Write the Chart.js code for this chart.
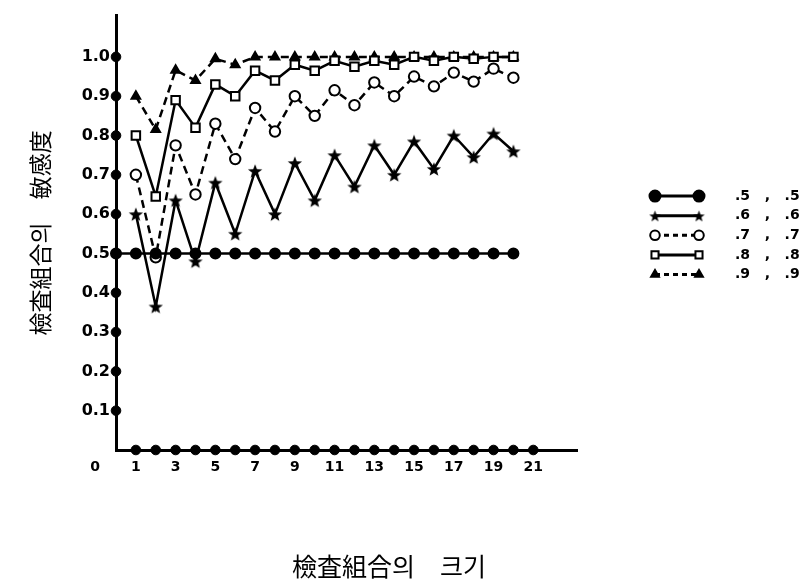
<!DOCTYPE html>
<html>
<head>
<meta charset="utf-8">
<script src="https://cdn.jsdelivr.net/npm/chart.js@4.4.0/dist/chart.umd.min.js"></script>
<style>
  html, body { margin: 0; padding: 0; background: #fff; }
  #wrap { width: 802px; height: 582px; }
</style>
</head>
<body>
<div id="wrap"><canvas id="c"></canvas></div>
<script>
// test-combination size (x) and sensitivity per (sens, spec) pair
const sizes = [1, 2, 3, 4, 5, 6, 7, 8, 9, 10, 11, 12, 13, 14, 15, 16, 17, 18, 19, 20];
const sizes55 = [0, 1, 2, 3, 4, 5, 6, 7, 8, 9, 10, 11, 12, 13, 14, 15, 16, 17, 18, 19, 20];
const s55 = [0.5, 0.5, 0.5, 0.5, 0.5, 0.5, 0.5, 0.5, 0.5, 0.5, 0.5, 0.5, 0.5, 0.5, 0.5, 0.5, 0.5, 0.5, 0.5, 0.5, 0.5];
const s66 = [0.60, 0.365, 0.635, 0.48, 0.68, 0.55, 0.71, 0.60, 0.73, 0.635, 0.75, 0.67, 0.775, 0.70, 0.785, 0.715, 0.80, 0.745, 0.805, 0.76];
const s77 = [0.70, 0.49, 0.775, 0.65, 0.83, 0.74, 0.87, 0.81, 0.90, 0.85, 0.915, 0.877, 0.935, 0.90, 0.95, 0.925, 0.96, 0.937, 0.97, 0.947];
const s88 = [0.80, 0.645, 0.89, 0.82, 0.93, 0.90, 0.965, 0.94, 0.98, 0.965, 0.99, 0.975, 0.99, 0.98, 1.0, 0.99, 1.0, 0.995, 1.0, 1.0];
const s99 = [0.90, 0.815, 0.966, 0.94, 0.995, 0.98, 1.0, 1.0, 1.0, 1.0, 1.0, 1.0, 1.0, 1.0, 1.0, 1.0, 1.0, 1.0, 1.0, 1.0];

const yTicks = [0.1, 0.2, 0.3, 0.4, 0.5, 0.6, 0.7, 0.8, 0.9, 1.0];
const xTicks = [0, 1, 3, 5, 7, 9, 11, 13, 15, 17, 19, 21];
const xDots = [1, 2, 3, 4, 5, 6, 7, 8, 9, 10, 11, 12, 13, 14, 15, 16, 17, 18, 19, 20, 21];

const legendLabels = [".5   ,   .5", ".6   ,   .6", ".7   ,   .7", ".8   ,   .8", ".9   ,   .9"];
const yTitle = "檢査組合의\u3000敏感度";
const xTitle = "檢査組合의\u3000크기";

function pts(xs, ys) {
  return xs.map((x, i) => ({ x: x, y: ys[i] }));
}

// filled five point star used as point style
function makeStar(size) {
  const cv = document.createElement("canvas");
  cv.width = size;
  cv.height = size;
  const g = cv.getContext("2d");
  const c = size / 2;
  const ro = size / 2 - 0.5;
  const ri = ro * 0.42;
  g.beginPath();
  for (let i = 0; i < 10; i++) {
    const r = i % 2 === 0 ? ro : ri;
    const a = -Math.PI / 2 + (i * Math.PI) / 5;
    const px = c + r * Math.cos(a);
    const py = c + r * Math.sin(a) + 0.8;
    if (i === 0) g.moveTo(px, py);
    else g.lineTo(px, py);
  }
  g.closePath();
  g.fillStyle = "#000";
  g.fill();
  return cv;
}
const star = makeStar(16);
const starSmall = makeStar(13);

const series = [
  {
    label: legendLabels[0], data: pts(sizes55, s55), pointStyle: "circle", pointRadius: 5,
    backgroundColor: "#000", borderDash: [], legendRadius: 5.5, order: 1,
  },
  {
    label: legendLabels[1], data: pts(sizes, s66), pointStyle: star, pointRadius: 8,
    backgroundColor: "#000", borderDash: [], legendStyle: starSmall, order: 2,
  },
  {
    label: legendLabels[2], data: pts(sizes, s77), pointStyle: "circle", pointRadius: 5.2,
    backgroundColor: "#fff", borderDash: [8, 5], legendRadius: 4.8, order: 5,
  },
  {
    label: legendLabels[3], data: pts(sizes, s88), pointStyle: "rect", pointRadius: 6,
    backgroundColor: "#fff", borderDash: [], legendRadius: 5, order: 3,
  },
  {
    label: legendLabels[4], data: pts(sizes, s99), pointStyle: "triangle", pointRadius: 5,
    backgroundColor: "#000", borderDash: [8, 5], legendRadius: 4.5, order: 4,
  },
];

const datasets = series.map((s) => ({
  label: s.label,
  data: s.data,
  showLine: true,
  borderColor: "#000",
  borderWidth: 2.5,
  borderDash: s.borderDash,
  pointStyle: s.pointStyle,
  pointRadius: s.pointRadius,
  pointBorderWidth: 2,
  pointBackgroundColor: s.backgroundColor,
  pointBorderColor: "#000",
  legendStyle: s.legendStyle,
  legendRadius: s.legendRadius,
  order: s.order,
  clip: false,
}));

// axis dots on both axes
datasets.push({
  data: yTicks.map((v) => ({ x: 0, y: v })),
  showLine: false,
  pointRadius: 4.8,
  pointBackgroundColor: "#000",
  pointBorderColor: "#000",
  clip: false,
  isAxis: true,
  order: 0,
});
datasets.push({
  data: xDots.map((v) => ({ x: v, y: 0 })),
  showLine: false,
  pointRadius: 4.8,
  pointBackgroundColor: "#000",
  pointBorderColor: "#000",
  clip: false,
  isAxis: true,
  order: 0,
});

const extras = {
  id: "extras",
  afterDraw(chart) {
    const ctx = chart.ctx;
    const area = chart.chartArea;
    ctx.save();
    // x axis title
    ctx.fillStyle = "#000";
    ctx.font = '25px "Noto Sans CJK KR"';
    ctx.textAlign = "center";
    ctx.textBaseline = "middle";
    ctx.fillText(xTitle, area.left + 273, 566);

    // legend
    const x0 = area.right + 78;
    const x1 = x0 + 44;
    chart.data.datasets.forEach((ds, i) => {
      if (ds.isAxis) return;
      const y = area.top + 180.5 + i * 19.6;
      ctx.strokeStyle = "#000";
      ctx.lineWidth = 3;
      ctx.setLineDash(ds.borderDash.length ? [5, 4] : []);
      ctx.beginPath();
      ctx.moveTo(x0, y);
      ctx.lineTo(x1, y);
      ctx.stroke();
      ctx.setLineDash([]);
      ctx.fillStyle = ds.pointBackgroundColor;
      ctx.lineWidth = 2;
      const opts = {
        pointStyle: ds.legendStyle || ds.pointStyle,
        radius: ds.legendRadius || 4,
        rotation: 0,
        borderWidth: 2,
      };
      Chart.helpers.drawPoint(ctx, opts, x0, y);
      Chart.helpers.drawPoint(ctx, opts, x1, y);
      ctx.fillStyle = "#000";
      ctx.font = 'bold 14px "DejaVu Sans"';
      ctx.textAlign = "left";
      ctx.textBaseline = "middle";
      ctx.fillText(ds.label, x1 + 36, y);
    });
    ctx.restore();
  },
};

new Chart(document.getElementById("c"), {
  type: "scatter",
  data: { datasets },
  plugins: [extras],
  options: {
    responsive: true,
    maintainAspectRatio: false,
    animation: false,
    layout: { padding: { left: 0, right: 225, top: 7, bottom: 0 } },
    plugins: {
      legend: { display: false },
      tooltip: { enabled: false },
    },
    scales: {
      x: {
        type: "linear",
        min: 0,
        max: 23.2,
        afterFit: (s) => { s.height = 132; },
        afterBuildTicks: (s) => { s.ticks = xTicks.map((v) => ({ value: v })); },
        grid: { display: false, drawTicks: false },
        border: { display: true, width: 3, color: "#000" },
        ticks: {
          padding: 9,
          color: "#000",
          maxRotation: 0,
          autoSkip: false,
          font: { family: "DejaVu Sans", size: 14, weight: "bold" },
          // the origin label sits left of the axis in the original
          callback: (v) => (v === 0 ? "0\u2003\u2003\u2003" : String(v)),
        },
      },
      y: {
        min: 0,
        max: 1.105,
        afterFit: (s) => { s.width = 116; },
        afterBuildTicks: (s) => { s.ticks = yTicks.map((v) => ({ value: v })); },
        grid: { display: false, drawTicks: false },
        border: { display: true, width: 3, color: "#000" },
        ticks: {
          padding: 6,
          color: "#000",
          font: { family: "DejaVu Sans", size: 16, weight: "bold" },
          callback: (v) => v.toFixed(1),
        },
        title: {
          display: true,
          text: yTitle,
          color: "#000",
          padding: { top: 26, bottom: 0 },
          font: { family: "Noto Sans CJK KR", size: 23 },
        },
      },
    },
  },
});
</script>
</body>
</html>
